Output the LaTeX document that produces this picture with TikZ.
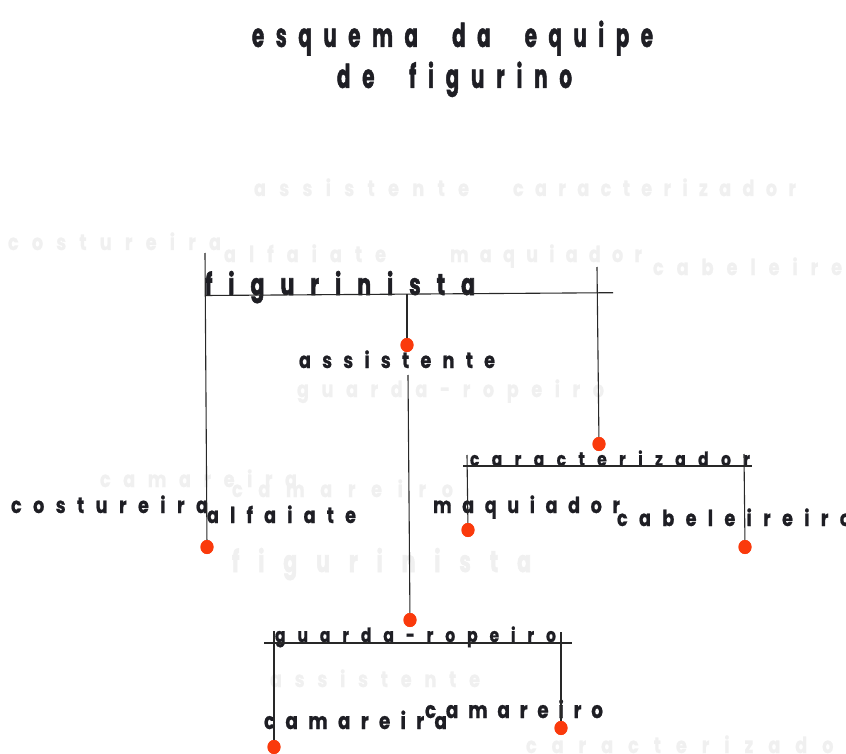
\documentclass[tikz,border=0pt]{standalone}
\usepackage{fontspec}
\setmainfont{Poppins}
\newfontfamily\fttl{Poppins}[FakeStretch=0.6, BoldFeatures={FakeBold=1.2}]
\newfontfamily\ffig{Poppins}[FakeStretch=0.68, BoldFeatures={FakeBold=1.8}]
\newfontfamily\flbl{Poppins}[FakeStretch=0.8, BoldFeatures={FakeBold=0.8}]
\usetikzlibrary{shapes.geometric}
\definecolor{ink}{RGB}{30,30,36}
\definecolor{dotred}{RGB}{250,58,12}
\definecolor{linec}{RGB}{40,40,40}
\definecolor{ghost}{RGB}{240,240,240}
\makeatletter
\newlength\wsp \setlength\wsp{11pt}
\def\spr@a#1{\ifx#1\relax\else#1\expandafter\spr@b\fi}
\def\spr@b#1{\ifx#1\relax\else\hfill\ifx#1|\hspace*{\wsp}\else#1\fi\expandafter\spr@b\fi}
\newcommand\spreadto[2]{\makebox[#1][s]{\spr@a#2\relax}}
\makeatother
\tikzset{
  lbl/.style={inner sep=0pt, outer sep=0pt, anchor=base west, text=ink, font=\flbl\bfseries\fontsize{22}{22}\selectfont},
  ttl/.style={lbl, font=\fttl\bfseries\fontsize{33}{33}\selectfont},
  big/.style={lbl, font=\ffig\bfseries\fontsize{30}{30}\selectfont},
  small/.style={lbl, font=\flbl\bfseries\fontsize{19.5}{19.5}\selectfont},
  ghosttxt/.style={lbl, text=ghost},
  dot/.style={ellipse, fill=dotred, draw=none, inner sep=0pt, minimum width=13pt, minimum height=14pt},
  conn/.style={draw=linec, line width=1.1pt},
}
\begin{document}
\begin{tikzpicture}[x=1pt, y=-1pt]
\useasboundingbox[fill=white] (0,0) rectangle (846,754);
% faint background words
\node[ghosttxt] (g1) at (254,196) {\spreadto{215pt}{assistente}};
\node[ghosttxt] (g2) at (513,196) {\spreadto{283pt}{caracterizador}};
\node[ghosttxt] (g3) at (8,250) {\spreadto{213pt}{costureira}};
\node[ghosttxt] (g4) at (224,262) {\spreadto{162pt}{alfaiate}};
\node[ghosttxt] (g5) at (450,262) {\spreadto{192pt}{maquiador}};
\node[ghosttxt] (g6) at (653,275) {\spreadto{252pt}{cabeleireiro}};
\node[ghosttxt] (g7) at (297,397) {\spreadto{307pt}{guarda-ropeiro}};
\node[ghosttxt] (g8) at (100,487) {\spreadto{197pt}{camareira}};
\node[ghosttxt] (g9) at (232,497) {\spreadto{221pt}{camareiro}};
\node[ghosttxt, font=\ffig\bfseries\fontsize{30}{30}\selectfont] (g10) at (232,572) {\spreadto{299pt}{figurinista}};
\node[ghosttxt] (g11) at (270,687) {\spreadto{210pt}{assistente}};
\node[ghosttxt] (g12) at (526,753) {\spreadto{330pt}{caracterizador}};
% title
\node[ttl] (t1) at (252,47) {\spreadto{401pt}{esquema|da|equipe}};
\node[ttl] (t2) at (337,88) {\spreadto{235pt}{de|figurino}};
% labels
\node[big] (fig) at (205,295) {\spreadto{270pt}{figurinista}};
\node[lbl] (ass) at (299,368) {\spreadto{196pt}{assistente}};
\node[lbl] (cos) at (11,513) {\spreadto{197pt}{costureira}};
\node[lbl] (alf) at (207,523) {\spreadto{149pt}{alfaiate}};
\node[lbl] (maq) at (433,513) {\spreadto{187pt}{maquiador}};
\node[lbl] (cab) at (617,526) {\spreadto{234pt}{cabeleireiro}};
\node[small] (car) at (470,466) {\spreadto{280pt}{caracterizador}};
\node[small] (gua) at (275,642) {\spreadto{281pt}{guarda-ropeiro}};
\node[lbl, font=\flbl\bfseries\fontsize{23}{23}\selectfont] (cma) at (264,729) {\spreadto{183pt}{camareira}};
\node[lbl, font=\flbl\bfseries\fontsize{23}{23}\selectfont] (cmo) at (425,718) {\spreadto{178pt}{camareiro}};
% connector end points
\coordinate (figL) at (205,295.5);
\coordinate (figR) at (613,292.7);
\coordinate (figTop) at (205,253);
\coordinate (figMid) at (407,294.3);
\coordinate (assBot) at (408,375);
\coordinate (rTop) at (597,267);
\coordinate (carL) at (463,466);
\coordinate (carR) at (752,466);
\coordinate (carLT) at (467,455);
\coordinate (carRT) at (744,454);
\coordinate (guaL) at (264,643);
\coordinate (guaR) at (572,643);
\coordinate (guaLT) at (274,631);
\coordinate (guaRT) at (561,632);
% dots
\node[dot] (dAss) at (407,345) {};
\node[dot] (dAlf) at (207,547) {};
\node[dot] (dCar) at (599,444) {};
\node[dot] (dMaq) at (468,530) {};
\node[dot] (dCab) at (745,547) {};
\node[dot] (dGua) at (410,620) {};
\node[dot] (dCma) at (274,747) {};
\node[dot] (dCmo) at (561,728) {};
% connectors
\draw[conn] (figL) -- (figR);
\draw[conn] (figTop) -- (dAlf.center);
\draw[conn] (figMid) -- (dAss.center);
\draw[conn] (assBot) -- (dGua.center);
\draw[conn] (rTop) -- (dCar.center);
\draw[conn] (carL) -- (carR);
\draw[conn] (carLT) -- (dMaq.center);
\draw[conn] (carRT) -- (dCab.center);
\draw[conn] (guaL) -- (guaR);
\draw[conn] (guaLT) -- (dCma.center);
\draw[conn] (guaRT) -- (dCmo.center);
% dots drawn over the connector ends
\foreach \d in {dAss,dAlf,dCar,dMaq,dCab,dGua,dCma,dCmo}{\fill[dotred] (\d.center) ellipse (6.5pt and 7pt);}
\end{tikzpicture}
\end{document}
